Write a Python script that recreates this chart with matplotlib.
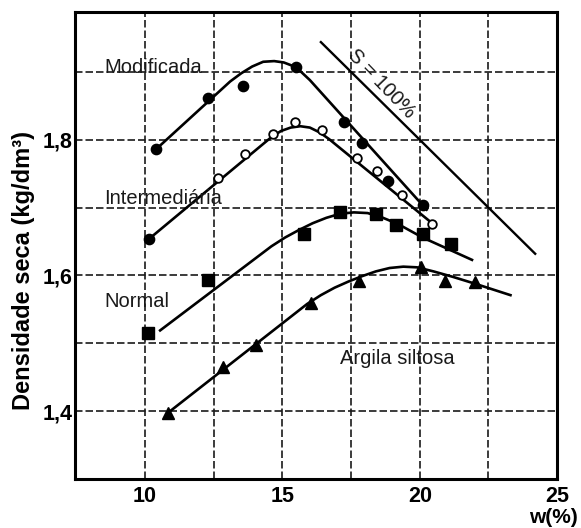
import matplotlib
matplotlib.use("Agg")
from matplotlib import pyplot as plt

plt.rcParams['font.family'] = ['Liberation Sans', 'DejaVu Sans']

# measured points (w %, dry density kg/dm3)
mod_w = [10.4, 12.3, 13.55, 15.5, 17.25, 17.9, 18.85, 20.1]
mod_d = [1.786, 1.862, 1.880, 1.907, 1.826, 1.795, 1.739, 1.704]

int_w = [10.15, 12.65, 13.65, 14.65, 15.45, 16.45, 17.7, 18.45, 19.35, 20.45]
int_d = [1.654, 1.744, 1.779, 1.809, 1.826, 1.815, 1.773, 1.754, 1.719, 1.676]

nor_w = [10.1, 12.3, 15.8, 17.1, 18.4, 19.15, 20.1, 21.15]
nor_d = [1.515, 1.593, 1.661, 1.694, 1.690, 1.674, 1.661, 1.647]

arg_w = [10.85, 12.85, 14.05, 16.05, 17.8, 20.05, 20.9, 22.0]
arg_d = [1.398, 1.465, 1.497, 1.559, 1.592, 1.613, 1.592, 1.590]

# compaction curves
mod_cw = [10.4, 13.1, 13.5, 13.9, 14.3, 14.7, 15.05, 15.5, 16.0, 20.25]
mod_cd = [1.786, 1.886, 1.898, 1.908, 1.915, 1.916, 1.914, 1.907, 1.888, 1.697]

int_cw = [10.15, 14.6, 14.95, 15.3, 15.65, 16.0, 16.35, 16.7, 17.0, 20.45]
int_cd = [1.654, 1.804, 1.813, 1.818, 1.820, 1.818, 1.811, 1.801, 1.791, 1.677]

nor_cw = [10.55, 14.6, 15.1, 15.6, 16.1, 16.6, 17.1, 17.6, 18.1, 18.6, 19.2, 20.1, 21.9]
nor_cd = [1.519, 1.643, 1.656, 1.667, 1.677, 1.685, 1.691, 1.693, 1.692, 1.686, 1.676, 1.656, 1.623]

arg_cw = [10.85, 15.9, 16.4, 16.9, 17.4, 17.9, 18.4, 18.9, 19.4, 19.9, 20.5, 21.2, 22.0, 23.3]
arg_cd = [1.398, 1.558, 1.571, 1.582, 1.591, 1.599, 1.606, 1.611, 1.613, 1.612, 1.606, 1.598, 1.588, 1.571]

# saturation line S = 100%
sat_w = [16.4, 24.2]
sat_d = [1.944, 1.632]

x_ticks = [10, 15, 20, 25]
x_minor = [12.5, 17.5, 22.5]
y_ticks = [1.4, 1.6, 1.8]
y_minor = [1.5, 1.7, 1.9]
y_labels = ['1,4', '1,6', '1,8']

fig = plt.figure(figsize=(5.81, 5.28), dpi=100)
ax = fig.add_axes([0.129, 0.0928, 0.830, 0.884])

line_kw = dict(color='black', lw=1.9, zorder=3)
ax.plot(mod_cw, mod_cd, **line_kw)
ax.plot(int_cw, int_cd, **line_kw)
ax.plot(nor_cw, nor_cd, **line_kw)
ax.plot(arg_cw, arg_cd, **line_kw)
ax.plot(sat_w, sat_d, color='black', lw=1.7, zorder=3)

ax.plot(mod_w, mod_d, 'o', color='black', ms=7.4, zorder=4)
ax.plot(int_w[:1], int_d[:1], 'o', color='black', ms=7.4, zorder=4)
ax.plot(int_w[1:], int_d[1:], 'o', mfc='white', mec='black', mew=1.3, ms=6.2, zorder=4)
ax.plot(nor_w, nor_d, 's', color='black', ms=8, zorder=4)
ax.plot(arg_w, arg_d, '^', color='black', ms=8.7, zorder=4)

lab_kw = dict(fontsize=14.5, ha='center', va='center', color='#1a1a1a')
ax.text(10.31, 1.906, 'Modificada', **lab_kw)
ax.text(10.67, 1.713, 'Intermediária', **lab_kw)
ax.text(9.70, 1.561, 'Normal', **lab_kw)
ax.text(19.2, 1.477, 'Argila siltosa', **lab_kw)
ax.text(18.6, 1.882, 'S = 100%', rotation=-46, rotation_mode='anchor', **lab_kw)

ax.set_xlim(7.45, 25)
ax.set_ylim(1.30, 1.988)
ax.set_xticks(x_ticks)
ax.set_xticks(x_minor, minor=True)
ax.set_yticks(y_ticks)
ax.set_yticks(y_minor, minor=True)
ax.set_yticklabels(y_labels)
ax.tick_params(which='both', length=0)
ax.tick_params(axis='x', pad=5, labelsize=15.5)
ax.tick_params(axis='y', pad=2, labelsize=15.5)
for lbl in ax.get_xticklabels() + ax.get_yticklabels():
    lbl.set_fontweight('bold')

ax.grid(which='both', color='#1a1a1a', lw=1.2, linestyle=(0, (4.5, 1.8)))
ax.set_axisbelow(True)
for sp in ax.spines.values():
    sp.set_linewidth(2.2)
    sp.set_zorder(5)

fig.text(24 / 581, 1 - 271 / 528, 'Densidade seca (kg/dm³)', rotation=90,
         ha='center', va='center', fontsize=17, fontweight='bold')
fig.text(553 / 581, 0.001, 'w(%)', ha='center', va='bottom',
         fontsize=15, fontweight='bold')

fig.savefig('out.png', dpi=100)
